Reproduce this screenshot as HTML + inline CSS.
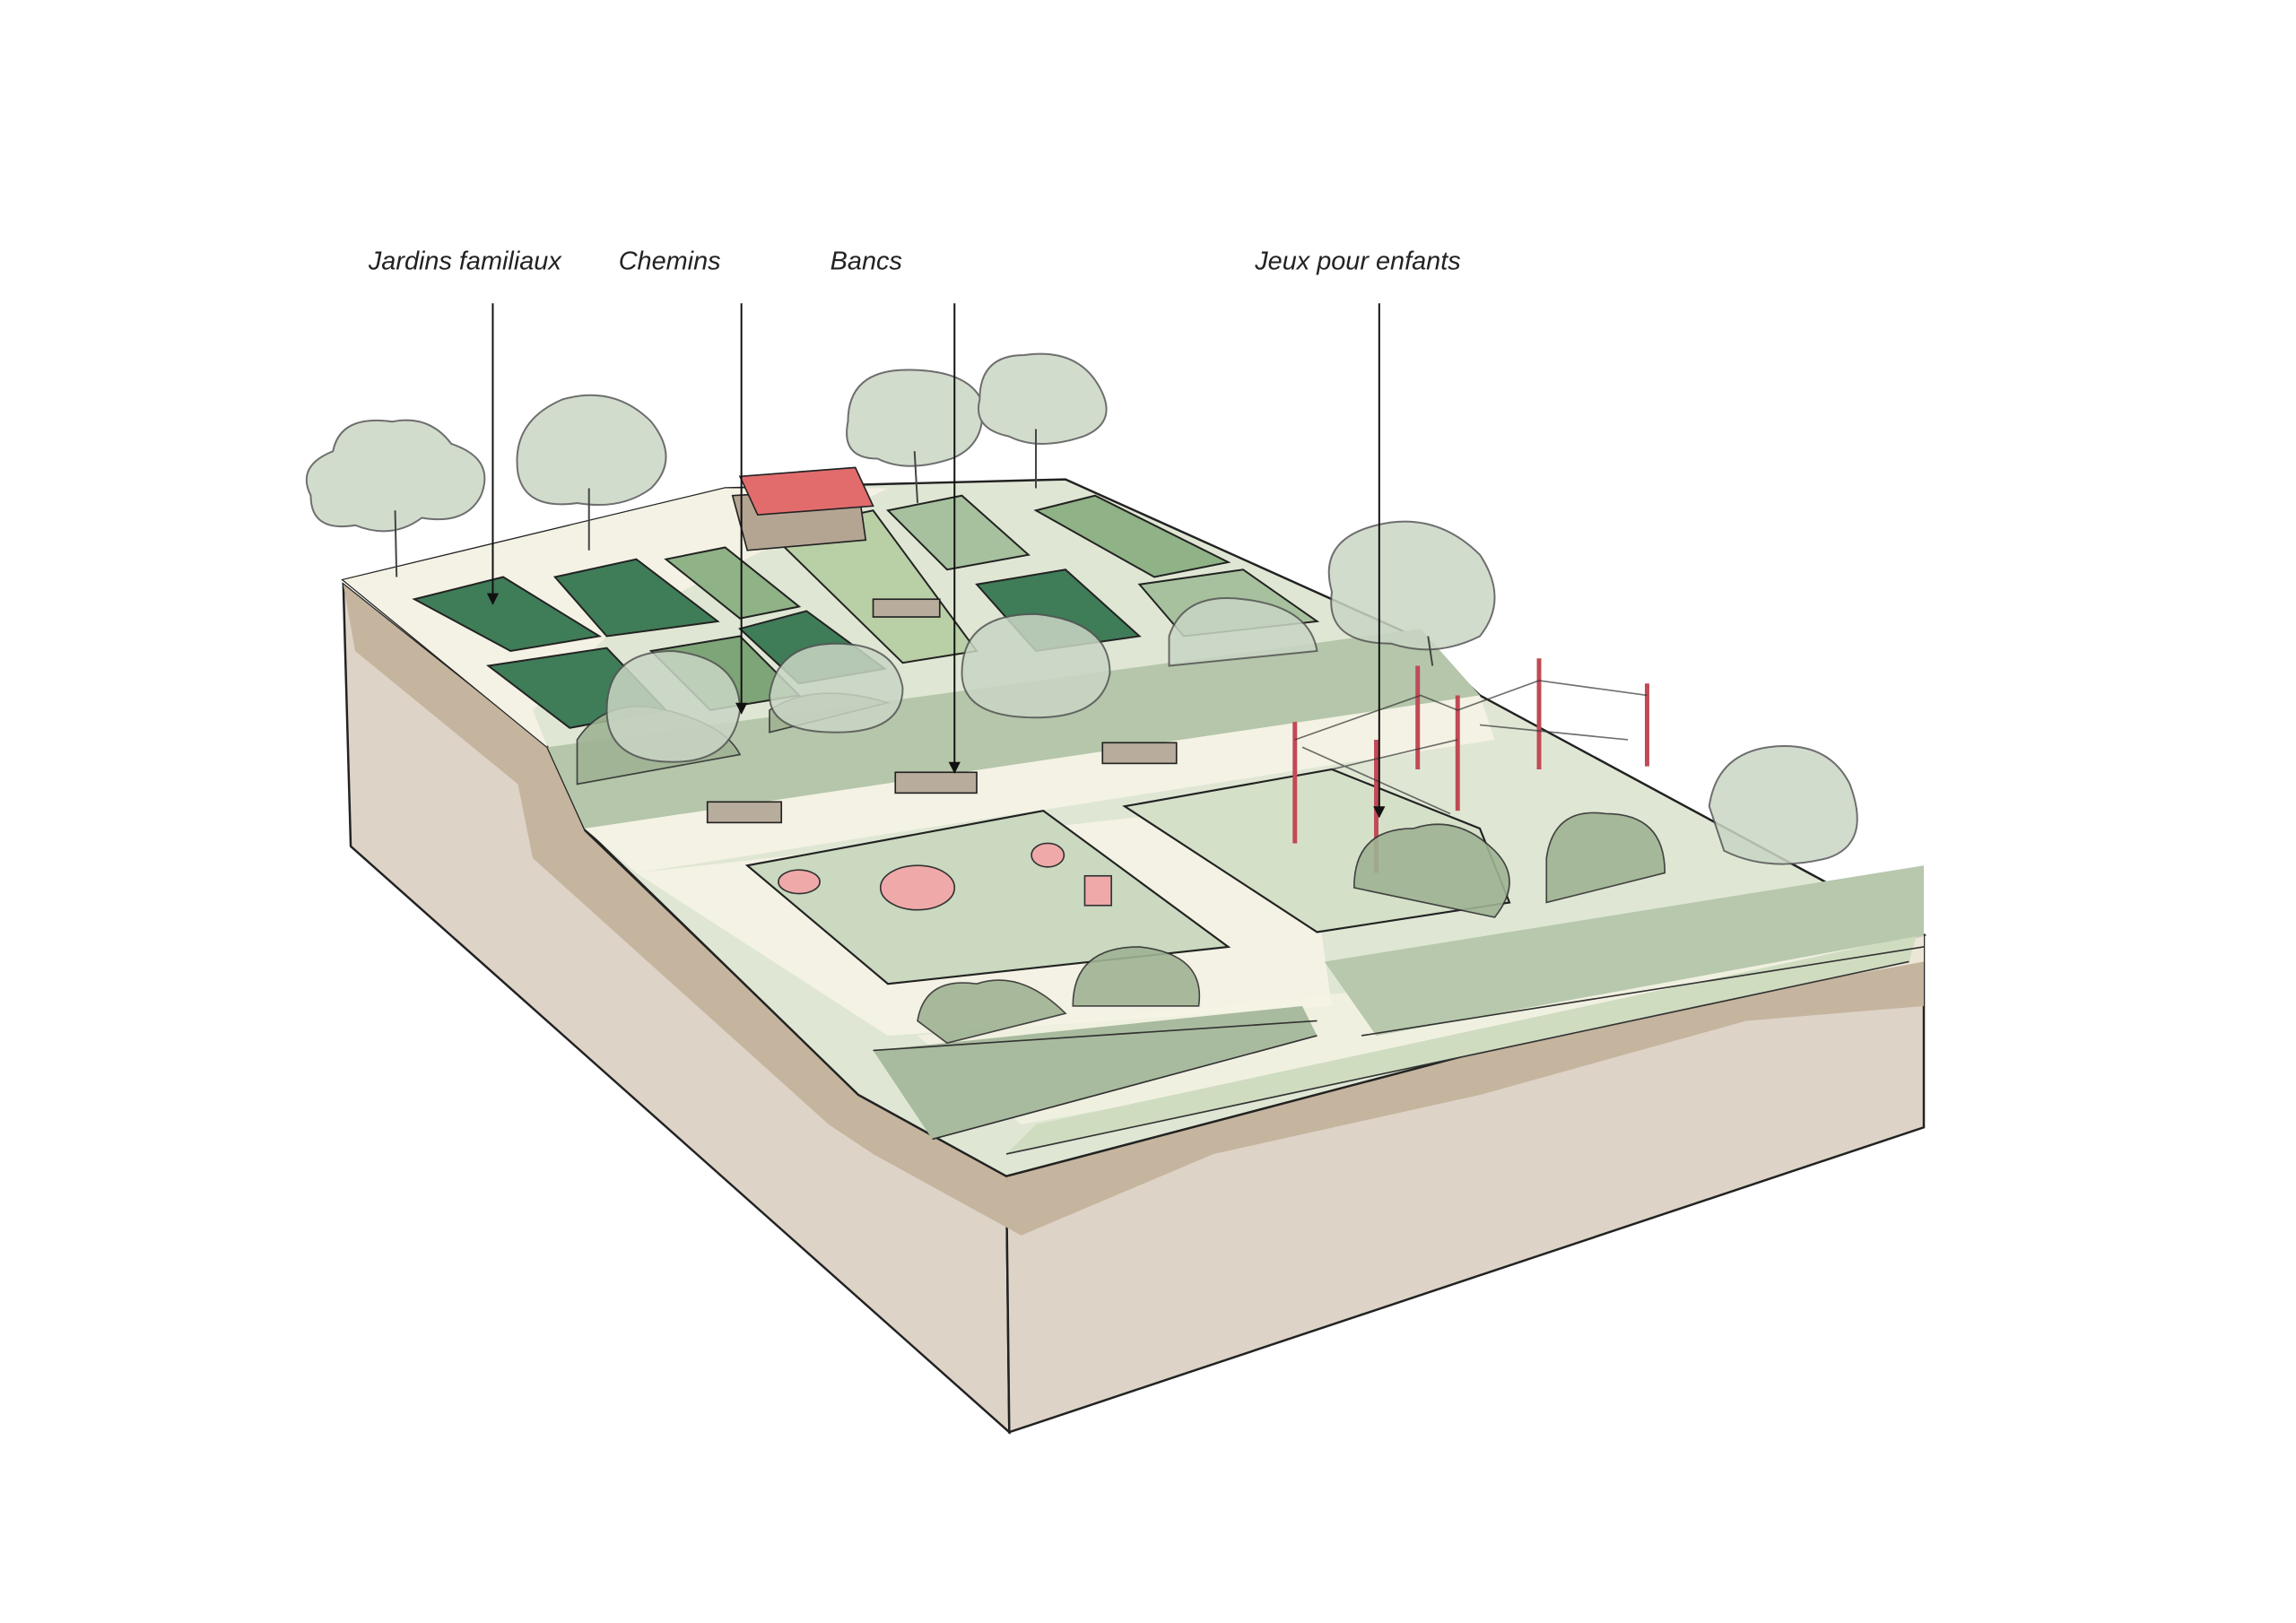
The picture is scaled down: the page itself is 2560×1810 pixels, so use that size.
<!DOCTYPE html>
<html><head><meta charset="utf-8"><style>
html,body{margin:0;padding:0;background:#fff;}
svg{display:block;}
text{font-family:"Liberation Sans",sans-serif;font-style:italic;font-size:17.5px;fill:#222;}
</style></head><body>
<svg width="2560" height="1810" viewBox="0 0 1551.5 1097" preserveAspectRatio="none" xmlns="http://www.w3.org/2000/svg">
<defs>
<marker id="ar" markerWidth="8" markerHeight="8" refX="4" refY="7" orient="0" markerUnits="userSpaceOnUse"><path d="M0,0 L8,0 L4,8 z" fill="#111"/></marker>
</defs>
<rect width="1552" height="1097" fill="#fff"/>
<path d="M232,395 L370,505 L395,562 L580,740 L680,795 L682,968 L237,572 Z" fill="#ddd3c6" stroke="#222" stroke-width="1.5"/>
<path d="M680,795 L1300,632 L1300,762 L682,968 Z" fill="#ddd3c6" stroke="#222" stroke-width="1.5"/>
<path d="M232,395 L370,505 L395,562 L580,740 L680,795 L690,835 L590,780 L560,760 L360,580 L350,530 L240,440 Z" fill="#c5b49e"/>
<path d="M680,795 L1300,632 L1300,680 L1180,690 L1000,740 L820,780 L690,835 Z" fill="#c5b49e"/>
<path d="M232,392 L490,330 L720,324 L960,432 L1000,470 L1300,632 L680,795 L580,740 L395,560 L370,505 Z" fill="#dfe7d4" stroke="#222" stroke-width="1.5"/>
<path d="M232,392 L490,330 L600,330 L420,420 L360,480 L370,505 Z" fill="#f4f2e4"/>
<path d="M370,505 L960,425 L1000,470 L395,560 Z" fill="#b5c6aa"/>
<path d="M395,560 L1000,470 L1010,500 L430,590 Z" fill="#f4f2e4"/>
<path d="M430,590 L880,540 L900,680 L600,700 Z" fill="#f4f2e4"/>
<path d="M620,700 L1300,632 L1300,650 L690,760 Z" fill="#f4f2e4" opacity=".8"/>
<path d="M680,780 L1290,650 L1295,632 L700,760 Z" fill="#cfdcc0"/>
<path d="M590,710 L880,680 L890,700 L630,770 Z" fill="#a9bb9e"/>
<path d="M895,650 L1300,585 L1300,632 L930,700 Z" fill="#b7c8ad"/>
<g stroke="#222" stroke-width="1.2">
<path d="M280,405 L340,390 L405,430 L345,440 Z" fill="#3f7c58"/>
<path d="M375,390 L430,378 L485,420 L410,430 Z" fill="#3f7c58"/>
<path d="M450,378 L490,370 L540,410 L500,418 Z" fill="#8fb286"/>
<path d="M330,450 L410,438 L450,480 L385,492 Z" fill="#3f7c58"/>
<path d="M440,440 L500,430 L540,470 L480,480 Z" fill="#7ea577"/>
<path d="M500,425 L545,413 L598,452 L540,462 Z" fill="#3f7c58"/>
<path d="M600,345 L650,335 L695,375 L640,385 Z" fill="#a7c19e"/>
<path d="M660,395 L720,385 L770,430 L700,440 Z" fill="#3f7c58"/>
<path d="M700,345 L740,335 L830,380 L780,390 Z" fill="#8fb286"/>
<path d="M770,395 L840,385 L890,420 L800,430 Z" fill="#a7c19e"/>
<path d="M520,360 L590,345 L660,440 L610,448 Z" fill="#b9cfa6"/>
</g>
<path d="M495,335 L580,330 L585,365 L505,372 Z" fill="#b4a592" stroke="#222"/>
<path d="M500,322 L578,316 L590,342 L512,348 Z" fill="#e26c6c" stroke="#222"/>
<g fill="#b8ac9c" stroke="#222"><rect x="590" y="405" width="45" height="12"/><rect x="605" y="522" width="55" height="14"/><rect x="745" y="502" width="50" height="14"/><rect x="478" y="542" width="50" height="14"/></g>
<path d="M505,585 L705,548 L830,640 L600,665 Z" fill="#cad9bf" stroke="#222" stroke-width="1.3"/>
<path d="M760,545 L900,520 L1000,560 L1020,610 L890,630 Z" fill="#d4e0c8" stroke="#222" stroke-width="1.3"/>
<g fill="#f0a9a9" stroke="#333"><ellipse cx="620" cy="600" rx="25" ry="15"/><ellipse cx="708" cy="578" rx="11" ry="8"/><ellipse cx="540" cy="596" rx="14" ry="8"/><rect x="733" y="592" width="18" height="20"/></g>
<g stroke="#c04a55" stroke-width="3"><line x1="875" y1="488" x2="875" y2="570"/><line x1="930" y1="500" x2="930" y2="590"/><line x1="985" y1="470" x2="985" y2="548"/><line x1="1040" y1="445" x2="1040" y2="520"/><line x1="1113" y1="462" x2="1113" y2="518"/><line x1="958" y1="450" x2="958" y2="520"/></g>
<g stroke="#333" fill="none" opacity=".7"><path d="M875,500 L960,470 L985,480 L1040,460 L1113,470 M900,520 L985,500 M1000,490 L1100,500 M880,505 L980,550"/></g>
<g fill="#9fb393" stroke="#333" stroke-width="1" opacity=".9">
<path d="M915,600 q0,-40 40,-40 q30,-10 55,15 q20,20 0,45 z"/>
<path d="M1045,580 q5,-35 40,-30 q40,0 40,40 l-80,20 z"/>
<path d="M620,690 q5,-30 40,-25 q30,-10 60,20 l-80,20 z"/>
<path d="M725,680 q0,-40 45,-40 q45,5 40,40 z"/>
<path d="M390,500 q20,-30 60,-20 q40,10 50,30 l-110,20 z"/>
<path d="M520,480 q30,-20 80,-5 l-80,20 z"/>
</g>
<g fill="#c9d6c5" stroke="#555" stroke-width="1.2" opacity=".85">
<path d="M210,335 q-10,-20 15,-30 q5,-25 40,-20 q25,-5 40,15 q30,10 20,35 q-10,20 -40,15 q-20,15 -45,5 q-30,5 -30,-20 z"/>
<path d="M350,320 q-5,-35 30,-50 q35,-10 60,15 q20,25 0,45 q-20,15 -50,10 q-35,5 -40,-20 z"/>
<path d="M573,285 q0,-35 40,-35 q40,0 50,20 q5,30 -20,40 q-30,10 -50,0 q-25,0 -20,-25 z"/>
<path d="M662,270 q0,-30 30,-30 q35,-5 50,20 q15,25 -10,35 q-30,10 -50,0 q-25,-5 -20,-25 z"/>
<path d="M900,400 q-10,-35 30,-45 q40,-10 70,20 q20,30 0,55 q-30,15 -60,5 q-45,0 -40,-35 z"/>
<path d="M1155,545 q5,-35 40,-40 q40,-5 55,25 q15,40 -15,50 q-40,10 -70,-5 z"/>
<path d="M410,480 q0,-40 45,-40 q45,5 45,40 q-5,35 -45,35 q-45,0 -45,-35 z"/>
<path d="M520,470 q5,-35 45,-35 q40,0 45,30 q0,30 -45,30 q-45,0 -45,-25 z"/>
<path d="M650,455 q0,-40 50,-40 q50,5 50,40 q-5,30 -50,30 q-50,0 -50,-30 z"/>
<path d="M790,430 q10,-30 50,-25 q45,5 50,35 l-100,10 z"/>
</g>
<g stroke="#444" stroke-width="1.2"><line x1="267" y1="345" x2="268" y2="390"/><line x1="398" y1="330" x2="398" y2="372"/><line x1="618" y1="305" x2="620" y2="340"/><line x1="700" y1="290" x2="700" y2="330"/><line x1="965" y1="430" x2="968" y2="450"/></g>
<path d="M590,710 L890,690 M630,770 L890,700 M680,780 L1290,650 M920,700 L1300,640" stroke="#333" stroke-width="1" fill="none"/>
<g stroke="#111" stroke-width="1.2" marker-end="url(#ar)">
<line x1="333" y1="205" x2="333" y2="408"/>
<line x1="501" y1="205" x2="501" y2="482"/>
<line x1="645" y1="205" x2="645" y2="522"/>
<line x1="932" y1="205" x2="932" y2="552"/>
</g>
<text x="249" y="182">Jardins familiaux</text>
<text x="418" y="182">Chemins</text>
<text x="561" y="182">Bancs</text>
<text x="848" y="182">Jeux pour enfants</text>
</svg>
</body></html>
